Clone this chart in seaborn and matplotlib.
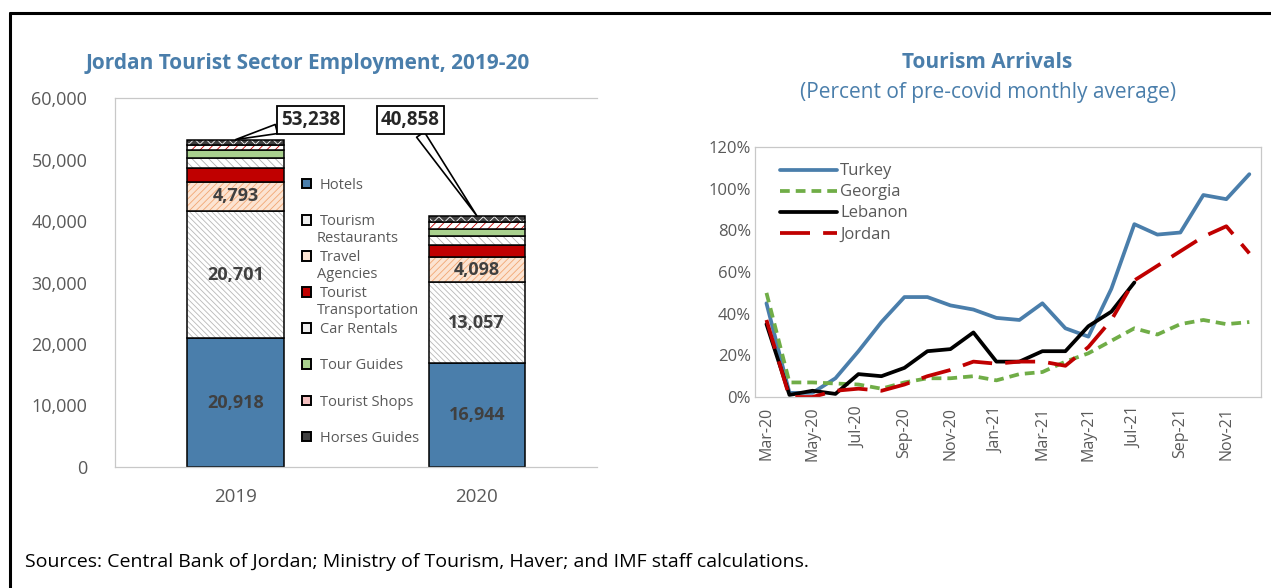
import matplotlib
matplotlib.use("Agg")
import matplotlib.pyplot as plt
from matplotlib.patches import Patch
from matplotlib.lines import Line2D
import seaborn as sns
import numpy as np
import pandas as pd

# ---- data: employment stack ----
years = ["2019", "2020"]
sectors = ["Hotels", "Tourism Restaurants", "Travel Agencies", "Tourist Transportation",
           "Car Rentals", "Tour Guides", "Tourist Shops", "Horses Guides"]
emp_2019 = [20918, 20701, 4793, 2200, 1600, 1300, 900, 826]
emp_2020 = [16944, 13057, 4098, 2000, 1400, 1200, 1100, 1059]
totals = [53238, 40858]
shown_labels = {0: True, 1: True, 2: True}

# ---- data: tourism arrivals (% of pre-covid monthly average) ----
months = ["Mar-20", "Apr-20", "May-20", "Jun-20", "Jul-20", "Aug-20", "Sep-20", "Oct-20",
          "Nov-20", "Dec-20", "Jan-21", "Feb-21", "Mar-21", "Apr-21", "May-21", "Jun-21",
          "Jul-21", "Aug-21", "Sep-21", "Oct-21", "Nov-21", "Dec-21"]
turkey = [45, 2, 2, 9, 22, 36, 48, 48, 44, 42, 38, 37, 45, 33, 29, 52, 83, 78, 79, 97, 95, 107]
georgia = [50, 7, 7, 6.5, 6, 4, 7, 9, 9, 10, 8, 11, 12, 17, 21, 27, 33, 30, 35, 37, 35, 36]
lebanon = [35, 1, 3, 1.5, 11, 10, 14, 22, 23, 31, 17, 17, 22, 22, 34, 41, 55,
           None, None, None, None, None]
jordan = [37, 0, 0, 3, 4, 3, 6, 10, 13, 17, 16, 17, 17, 15, 24, 37, 56, 63, 70, 77, 82, 69]

sns.set_theme(style="white")
plt.rcParams["font.family"] = ["Open Sans", "DejaVu Sans"]
plt.rcParams["hatch.linewidth"] = 0.6

TITLE_BLUE = "#4a7eab"
GRAY_TXT = "#595959"
BOX_GRAY = "#c8c8c8"

fig = plt.figure(figsize=(12.71, 5.88), dpi=100)

# ================= left chart =================
ax1 = fig.add_axes([0.0905, 0.2058, 0.3795, 0.6275])

styles = [
    dict(fc="#4a7eab", hc="#4a7eab", hatch=None),
    dict(fc="white", hc="#b8b8b8", hatch="\\\\\\\\\\\\"),
    dict(fc="#fce4d2", hc="#f2a673", hatch="/////"),
    dict(fc="#c00000", hc="#c00000", hatch=None),
    dict(fc="white", hc="#b0b0b0", hatch="\\\\\\\\"),
    dict(fc="#a9d18e", hc="#a9d18e", hatch=None),
    dict(fc="white", hc="#c00000", hatch="////"),
    dict(fc="#404040", hc="#ffffff", hatch="xxx"),
]

x = np.arange(len(years))
bottoms = np.zeros(len(years))
for i, name in enumerate(sectors):
    vals = np.array([emp_2019[i], emp_2020[i]])
    st = styles[i]
    ax1.bar(x, vals, width=0.4, bottom=bottoms, color=st["fc"], edgecolor=st["hc"],
            hatch=st["hatch"], linewidth=0)
    ax1.bar(x, vals, width=0.4, bottom=bottoms, fill=False, edgecolor="black", linewidth=1.1)
    if i in shown_labels:
        for xi, v, b in zip(x, vals, bottoms):
            ax1.text(xi, b + v / 2, f"{v:,}", ha="center", va="center", fontsize=13,
                     fontweight="bold", color="#404040")
    bottoms += vals

# callouts for totals
for xi, tot, tx in zip(x, totals, [0.31, 0.725]):
    ax1.annotate(f"{tot:,}", xy=(xi, tot), xytext=(tx, 56400), ha="center", va="center",
                 fontsize=13.5, fontweight="bold", color="#262626",
                 bbox=dict(boxstyle="square,pad=0.2", fc="white", ec="black", lw=1.3),
                 arrowprops=dict(arrowstyle="wedge,tail_width=0.5,shrink_factor=0.5",
                                 fc="white", ec="black", lw=1.2, shrinkA=0, shrinkB=0))

ax1.set_xlim(-0.5, 1.5)
ax1.set_ylim(0, 60000)
ax1.set_yticks(np.arange(0, 60001, 10000))
ax1.set_yticklabels([f"{v:,}" for v in range(0, 60001, 10000)])
ax1.set_xticks(x)
ax1.set_xticklabels(years)
ax1.set_xticks([0.5], minor=True)
ax1.tick_params(axis="x", which="major", length=0, labelsize=13.5, colors=GRAY_TXT, pad=15)
ax1.tick_params(axis="x", which="minor", length=4, color=BOX_GRAY, direction="out")
ax1.tick_params(axis="y", length=0, labelsize=13, colors=GRAY_TXT, pad=20)
for s in ax1.spines.values():
    s.set_color(BOX_GRAY)
    s.set_linewidth(0.9)
ax1.spines["right"].set_visible(False)
ax1.set_title("Jordan Tourist Sector Employment, 2019-20", fontsize=15, fontweight="bold",
              color=TITLE_BLUE, pad=21, x=0.40)

# legend with first line of label; continuation added below
first_lines = ["Hotels", "Tourism", "Travel", "Tourist", "Car Rentals", "Tour Guides",
               "Tourist Shops", "Horses Guides"]
second_lines = [None, "Restaurants", "Agencies", "Transportation", None, None, None, None]
legend_fill = ["#4a7eab", "#eeeeee", "#fce4d2", "#c00000", "#eeeeee", "#a9d18e",
               "#f4c0c0", "#404040"]
handles = [Patch(facecolor=fc, edgecolor="black", linewidth=1.4) for fc in legend_fill]
leg1 = ax1.legend(handles, first_lines, loc="upper left", bbox_to_anchor=(0.375, 0.80),
                  frameon=False, fontsize=10.5, labelcolor=GRAY_TXT, handlelength=0.65,
                  handleheight=0.65, handletextpad=0.6, labelspacing=1.45, borderaxespad=0)

# ================= right chart =================
ax2 = fig.add_axes([0.594, 0.3248, 0.398, 0.425])
df = pd.DataFrame({"month": np.arange(len(months)), "Turkey": turkey, "Georgia": georgia,
                   "Lebanon": lebanon, "Jordan": jordan})
df = df.astype(float)
line_styles = {
    "Turkey": dict(color="#4a7eab", dashes=None),
    "Georgia": dict(color="#70ad47", dashes=(2.6, 1.6)),
    "Lebanon": dict(color="black", dashes=None),
    "Jordan": dict(color="#c00000", dashes=(8, 3.5)),
}
for name, st in line_styles.items():
    sns.lineplot(data=df, x="month", y=name, ax=ax2, color=st["color"], linewidth=2.7,
                 label=name)
    if st["dashes"] is not None:
        ax2.lines[-1].set_dashes(st["dashes"])

ax2.set_xlim(-0.5, len(months) - 0.5)
ax2.set_ylim(0, 120)
ax2.set_yticks(np.arange(0, 121, 20))
ax2.set_yticklabels([f"{v}%" for v in range(0, 121, 20)])
ax2.set_xticks(np.arange(0, len(months), 2))
ax2.set_xticklabels(months[::2], rotation=90)
ax2.set_xticks(np.arange(-0.5, len(months), 2), minor=True)
ax2.tick_params(axis="x", which="major", length=0, labelsize=11.5, colors=GRAY_TXT, pad=7)
ax2.tick_params(axis="x", which="minor", length=4, color=BOX_GRAY, direction="in")
ax2.tick_params(axis="y", length=4, color=BOX_GRAY, direction="in", labelsize=12,
                colors=GRAY_TXT, pad=3)
ax2.set_xlabel("")
ax2.set_ylabel("")
for s in ax2.spines.values():
    s.set_color(BOX_GRAY)
    s.set_linewidth(0.9)

leg2_handles = [Line2D([0], [0], color=st["color"], lw=2.7) for st in line_styles.values()]
for h, st in zip(leg2_handles, line_styles.values()):
    if st["dashes"] is not None:
        h.set_dashes(st["dashes"])
ax2.legend(leg2_handles, list(line_styles.keys()), loc="upper left",
           bbox_to_anchor=(0.03, 0.975), frameon=False, fontsize=12, labelcolor=GRAY_TXT,
           handlelength=3.4, handletextpad=0.2, labelspacing=0.3, borderaxespad=0.2)

fig.text(0.777, 0.893, "Tourism Arrivals", ha="center", va="center", fontsize=15,
         fontweight="bold", color=TITLE_BLUE)
fig.text(0.777, 0.843, "(Percent of pre-covid monthly average)", ha="center", va="center",
         fontsize=15, color=TITLE_BLUE)

fig.text(0.0197, 0.044, "Sources: Central Bank of Jordan; Ministry of Tourism, Haver; and IMF staff calculations.",
         ha="left", va="center", fontsize=14, color="black")

# frame around the panel
fig.add_artist(Line2D([0.0079, 0.0079], [0, 0.978], color="black", lw=2.2,
                      transform=fig.transFigure))
fig.add_artist(Line2D([0.0079, 1.0], [0.978, 0.978], color="black", lw=2.2,
                      transform=fig.transFigure))

# continuation lines of wrapped legend labels
fig.canvas.draw()
inv = fig.transFigure.inverted()
for txt, extra in zip(leg1.get_texts(), second_lines):
    if extra is None:
        continue
    bb = txt.get_window_extent()
    x0, y0 = inv.transform((bb.x0 - 3, bb.y0 - 2))
    fig.text(x0, y0, extra, ha="left", va="top", fontsize=10.5, color=GRAY_TXT)

fig.savefig("out.png", dpi=100)
